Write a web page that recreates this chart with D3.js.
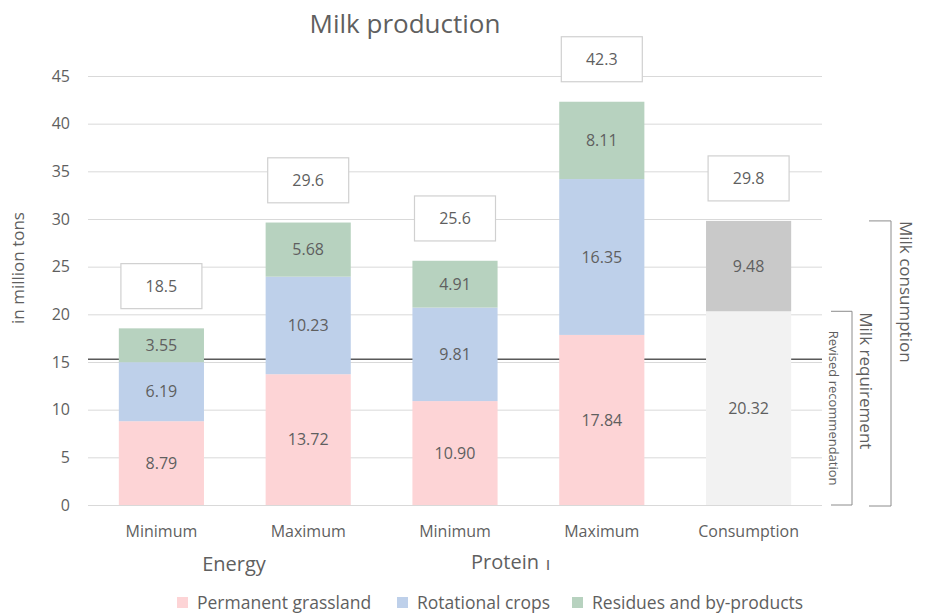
<!DOCTYPE html>
<html>
<head>
<meta charset="utf-8">
<script src="https://cdn.jsdelivr.net/npm/d3@7"></script>
<style>
  html, body { margin: 0; padding: 0; background: #fff; }
  svg { display: block; font-family: "Open Sans", "Noto Sans", sans-serif; }
</style>
</head>
<body>
<svg id="chart" width="926" height="615"></svg>
<script>
// Scenario categories along the x axis
const categories = ["Energy Minimum", "Energy Maximum", "Protein Minimum", "Protein Maximum", "Consumption"];
const tickLabels = ["Minimum", "Maximum", "Minimum", "Maximum", "Consumption"];
const groupLabels = ["Energy", "Protein"];

// Feed sources (million tons of milk), for the four production scenarios
const grassland = [8.79, 13.72, 10.90, 17.84];
const rotational = [6.19, 10.23, 9.81, 16.35];
const residues = [3.55, 5.68, 4.91, 8.11];

// Consumption bar: requirement part and the remainder
const consumption = [20.32, 9.48];

// Totals shown in boxes above each bar
const totals = [18.5, 29.6, 25.6, 42.3, 29.8];

// Revised recommendation level
const recommendation = 15.3;

const yTicks = [0, 5, 10, 15, 20, 25, 30, 35, 40, 45];

const seriesNames = ["Permanent grassland", "Rotational crops", "Residues and by-products"];
const seriesColors = ["#fdd4d6", "#bed0ea", "#b7d2bf"];
const consColors = ["#f2f2f2", "#c9c9c9"];
const textColor = "#5f5f5f";

const svg = d3.select("#chart");

const x = d3.scaleBand().domain(categories).range([88, 822]).paddingInner(0.42).paddingOuter(0.21);
const y = d3.scaleLinear().domain([0, 45]).range([505, 76]);

// Gridlines and tick labels
const yAxis = d3.axisLeft(y).tickValues(yTicks).tickSize(-(822 - 88)).tickPadding(18);
const gAxis = svg.append("g").attr("transform", "translate(88,0)").call(yAxis);
gAxis.select(".domain").remove();
gAxis.selectAll(".tick line").attr("stroke", "#d9d9d9").attr("stroke-width", 1);
gAxis.selectAll(".tick text").attr("fill", textColor).attr("font-size", 16).attr("font-family", "Open Sans, sans-serif");

// Recommendation line (sits behind the bars)
svg.append("line")
  .attr("x1", 88).attr("x2", 822)
  .attr("y1", y(recommendation)).attr("y2", y(recommendation))
  .attr("stroke", "#595959").attr("stroke-width", 1.5);

// Stacked production bars
const rows = categories.slice(0, 4).map((c, i) => ({ cat: c, g: grassland[i], r: rotational[i], s: residues[i] }));
const stack = d3.stack().keys(["g", "r", "s"]);
const stacked = stack(rows);

stacked.forEach((layer, li) => {
  const g = svg.append("g");
  g.selectAll("rect").data(layer).join("rect")
    .attr("x", d => x(d.data.cat))
    .attr("width", x.bandwidth())
    .attr("y", d => y(d[1]))
    .attr("height", d => y(d[0]) - y(d[1]))
    .attr("fill", seriesColors[li]);
  g.selectAll("text").data(layer).join("text")
    .attr("x", d => x(d.data.cat) + x.bandwidth() / 2)
    .attr("y", d => (y(d[0]) + y(d[1])) / 2)
    .attr("dy", "0.35em")
    .attr("text-anchor", "middle")
    .attr("font-size", 16)
    .attr("fill", textColor)
    .text(d => (d[1] - d[0]).toFixed(2));
});

// Consumption bar
let base = 0;
const consSegs = consumption.map((v, i) => { const s = { y0: base, y1: base + v, v, i }; base += v; return s; });
const gc = svg.append("g");
gc.selectAll("rect").data(consSegs).join("rect")
  .attr("x", x(categories[4]))
  .attr("width", x.bandwidth())
  .attr("y", d => y(d.y1))
  .attr("height", d => y(d.y0) - y(d.y1))
  .attr("fill", d => consColors[d.i]);
gc.selectAll("text").data(consSegs).join("text")
  .attr("x", x(categories[4]) + x.bandwidth() / 2)
  .attr("y", d => (y(d.y0) + y(d.y1)) / 2)
  .attr("dy", "0.35em")
  .attr("text-anchor", "middle")
  .attr("font-size", 16)
  .attr("fill", textColor)
  .text(d => d.v.toFixed(2));

// Total boxes
const boxW = 81, boxH = 45;
const gt = svg.append("g");
categories.forEach((c, i) => {
  const cx = x(c) + x.bandwidth() / 2;
  const bottom = y(totals[i]) - 20;
  gt.append("rect")
    .attr("x", cx - boxW / 2).attr("y", bottom - boxH)
    .attr("width", boxW).attr("height", boxH)
    .attr("fill", "#fff").attr("stroke", "#d0d0d0").attr("stroke-width", 1.2);
  gt.append("text")
    .attr("x", cx).attr("y", bottom - boxH / 2)
    .attr("dy", "0.35em").attr("text-anchor", "middle")
    .attr("font-size", 16).attr("fill", textColor)
    .text(totals[i].toFixed(1));
});

// Category tick labels
svg.append("g").selectAll("text").data(categories).join("text")
  .attr("x", d => x(d) + x.bandwidth() / 2)
  .attr("y", 531).attr("dy", "0.35em")
  .attr("text-anchor", "middle").attr("font-size", 16).attr("fill", textColor)
  .text((d, i) => tickLabels[i]);

// Group labels
svg.append("text").attr("x", 234).attr("y", 564).attr("dy", "0.35em")
  .attr("text-anchor", "middle").attr("font-size", 20).attr("fill", textColor).text(groupLabels[0]);
svg.append("text").attr("x", 505).attr("y", 562).attr("dy", "0.35em")
  .attr("text-anchor", "middle").attr("font-size", 20).attr("fill", textColor).text(groupLabels[1]);
svg.append("text").attr("x", 548).attr("y", 564).attr("dy", "0.35em")
  .attr("text-anchor", "middle").attr("font-size", 18).attr("fill", textColor).text("ı");

// Title
svg.append("text").attr("x", 405).attr("y", 24).attr("dy", "0.35em")
  .attr("text-anchor", "middle").attr("font-size", 26).attr("fill", textColor).text("Milk production");

// Y axis title
svg.append("text")
  .attr("transform", `translate(18,${268}) rotate(-90)`)
  .attr("dy", "0.35em").attr("text-anchor", "middle")
  .attr("font-size", 17).attr("fill", textColor).text("in million tons");

// Brackets on the right
const consTotal = d3.sum(consumption);
const bracketStroke = "#8c8c8c";
function bracket(xv, xl, top, bottom) {
  svg.append("path")
    .attr("d", `M${xl},${top}H${xv}V${bottom}H${xl}`)
    .attr("fill", "none").attr("stroke", bracketStroke).attr("stroke-width", 1);
}
bracket(891, 869, y(consTotal), y(0) + 1);
bracket(852, 831, y(consumption[0]), y(0));

svg.append("text")
  .attr("transform", `translate(906,${y(consTotal)}) rotate(90)`)
  .attr("dy", "0.35em").attr("text-anchor", "start")
  .attr("font-size", 17).attr("fill", textColor).text("Milk consumption");
svg.append("text")
  .attr("transform", `translate(866,${y(consumption[0]) + 1}) rotate(90)`)
  .attr("dy", "0.35em").attr("text-anchor", "start")
  .attr("font-size", 17).attr("fill", textColor).text("Milk requirement");
svg.append("text")
  .attr("transform", `translate(834,${(y(consumption[0]) + y(0)) / 2}) rotate(90)`)
  .attr("dy", "0.35em").attr("text-anchor", "middle")
  .attr("font-size", 13).attr("fill", textColor).text("Revised recommendation");

// Legend
const legendX = [182, 402, 577];
const lg = svg.append("g");
seriesNames.forEach((n, i) => {
  lg.append("rect").attr("x", legendX[i] - 5).attr("y", 597)
    .attr("width", 11).attr("height", 11).attr("fill", seriesColors[i]);
  lg.append("text").attr("x", legendX[i] + 15).attr("y", 603).attr("dy", "0.35em")
    .attr("font-size", 17.5).attr("fill", textColor).text(n);
});
</script>
</body>
</html>
